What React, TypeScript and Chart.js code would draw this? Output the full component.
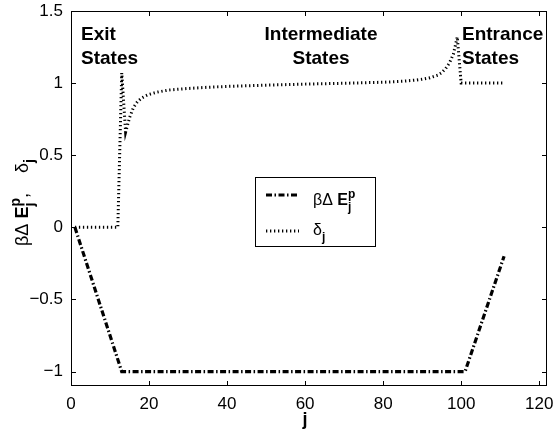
import { useEffect, useRef } from "react";
import { Chart, registerables } from "chart.js";

Chart.register(...registerables);

// ---- data ----
const energyJ = [1, 13, 101, 111];
const energyValues = [0, -1, -1, -0.2];

const deltaJ = [1, 12, 13, 14, 15, 16, 17, 18, 19, 20, 22, 25, 30, 35, 40, 50, 60, 70, 80, 85, 88, 90, 92, 94, 95, 96, 97, 98, 99, 100, 111];
const deltaValues = [0, 0, 1.07, 0.66, 0.76, 0.83, 0.87, 0.895, 0.91, 0.922, 0.937, 0.952, 0.963, 0.971, 0.977, 0.986, 0.993, 0.999, 1.006, 1.013, 1.02, 1.027, 1.037, 1.055, 1.072, 1.1, 1.14, 1.2, 1.32, 1.0, 1.0];

const xTicks = [0, 20, 40, 60, 80, 100, 120];
const yTicks = [-1, -0.5, 0, 0.5, 1, 1.5];

const FONT = '"Liberation Sans", Arial, Helvetica, sans-serif';

type Seg = { text: string; bold?: boolean; script?: "sup" | "sub"; stack?: boolean };

function drawRich(ctx: CanvasRenderingContext2D, segs: Seg[], x: number, y: number, size: number) {
  let cx = x;
  let stackW = 0;
  for (const s of segs) {
    const sz = s.script ? Math.round(size * 0.78) : size;
    ctx.font = `${s.bold ? "bold " : ""}${sz}px ${FONT}`;
    const dy = s.script === "sup" ? -size * 0.42 : s.script === "sub" ? size * 0.36 : 0;
    ctx.fillText(s.text, cx, y + dy);
    const w = ctx.measureText(s.text).width;
    if (s.stack) {
      stackW = w;
    } else {
      cx += Math.max(w, stackW);
      stackW = 0;
    }
  }
}

const energyLegend: Seg[] = [
  { text: "βΔ " },
  { text: "E", bold: true },
  { text: "p", bold: true, script: "sup", stack: true },
  { text: "j", bold: true, script: "sub" },
];
const deltaLegend: Seg[] = [{ text: "δ" }, { text: "j", bold: true, script: "sub" }];
const yTitle: Seg[] = [
  { text: "βΔ " },
  { text: "E", bold: true },
  { text: "p", bold: true, script: "sup", stack: true },
  { text: "j", bold: true, script: "sub" },
  { text: ",    " },
  { text: "δ" },
  { text: "j", bold: true, script: "sub" },
];

const ENERGY_DASH = [6, 2.5, 1.5, 2.5];
const DELTA_DASH = [1.3, 2.7];

const framePlugin = {
  id: "frame",
  afterDraw(chart: any) {
    const { ctx, chartArea: a, scales } = chart;
    const xs = scales.x;
    const ys = scales.y;
    ctx.save();
    ctx.strokeStyle = "#000";
    ctx.lineWidth = 1;
    ctx.setLineDash([]);
    ctx.strokeRect(a.left + 0.5, a.top + 0.5, a.right - a.left - 1, a.bottom - a.top - 1);
    ctx.beginPath();
    for (const v of xTicks) {
      const px = Math.round(xs.getPixelForValue(v)) + 0.5;
      ctx.moveTo(px, a.bottom);
      ctx.lineTo(px, a.bottom - 5);
      ctx.moveTo(px, a.top);
      ctx.lineTo(px, a.top + 5);
    }
    for (const v of yTicks) {
      const py = Math.round(ys.getPixelForValue(v)) + 0.5;
      ctx.moveTo(a.left, py);
      ctx.lineTo(a.left + 5, py);
      ctx.moveTo(a.right, py);
      ctx.lineTo(a.right - 5, py);
    }
    ctx.stroke();

    // region annotations
    ctx.fillStyle = "#000";
    ctx.font = `bold 19px ${FONT}`;
    ctx.textBaseline = "alphabetic";
    ctx.textAlign = "left";
    ctx.fillText("Exit", 81, 40);
    ctx.fillText("States", 81, 64);
    ctx.textAlign = "center";
    ctx.fillText("Intermediate", 321, 40);
    ctx.fillText("States", 321, 64);
    ctx.textAlign = "left";
    ctx.fillText("Entrance", 462, 40);
    ctx.fillText("States", 462, 64);

    // legend
    ctx.fillStyle = "#fff";
    ctx.fillRect(255.5, 177.5, 120, 69);
    ctx.strokeRect(255.5, 177.5, 120, 69);
    ctx.strokeStyle = "#000";
    ctx.lineWidth = 3;
    ctx.setLineDash(ENERGY_DASH);
    ctx.beginPath();
    ctx.moveTo(266, 195);
    ctx.lineTo(299, 195);
    ctx.stroke();
    ctx.setLineDash(DELTA_DASH);
    ctx.beginPath();
    ctx.moveTo(266, 231);
    ctx.lineTo(299, 231);
    ctx.stroke();
    ctx.setLineDash([]);
    ctx.fillStyle = "#000";
    drawRich(ctx, energyLegend, 313, 205, 16);
    drawRich(ctx, deltaLegend, 313, 235, 16);

    // x title
    ctx.textAlign = "center";
    ctx.font = `bold 18px ${FONT}`;
    ctx.fillText("j", 305, 425);

    // y title (rotated)
    ctx.save();
    ctx.translate(28, 246);
    ctx.rotate(-Math.PI / 2);
    ctx.textAlign = "left";
    drawRich(ctx, yTitle, 0, 0, 18);
    ctx.restore();

    ctx.restore();
  },
};

export default function App() {
  const ref = useRef<HTMLCanvasElement | null>(null);
  useEffect(() => {
    if (!ref.current) return;
    const fmt = (v: number) => (v < 0 ? "\u2212" + Math.abs(v) : String(v));
    const chart = new Chart(ref.current, {
      type: "line",
      data: {
        datasets: [
          {
            label: "energy",
            data: energyJ.map((j, i) => ({ x: j, y: energyValues[i] })),
            borderColor: "#000",
            borderWidth: 3.2,
            borderDash: ENERGY_DASH,
            pointRadius: 0,
            tension: 0,
            fill: false,
          },
          {
            label: "delta",
            data: deltaJ.map((j, i) => ({ x: j, y: deltaValues[i] })),
            borderColor: "#000",
            borderWidth: 3,
            borderDash: DELTA_DASH,
            pointRadius: 0,
            tension: 0,
            fill: false,
          },
        ],
      },
      options: {
        animation: false,
        responsive: true,
        maintainAspectRatio: false,
        layout: { padding: { left: 0, right: 8, top: 11, bottom: 0 } },
        plugins: { legend: { display: false }, tooltip: { enabled: false } },
        scales: {
          x: {
            type: "linear",
            min: 0,
            max: 122,
            grid: { display: false, drawTicks: false },
            border: { display: false },
            afterBuildTicks: (s: any) => {
              s.ticks = xTicks.map((v) => ({ value: v }));
            },
            afterFit: (s: any) => {
              s.height = 46;
              s.paddingLeft = 0;
              s.paddingRight = 0;
            },
            ticks: {
              color: "#000",
              padding: 8,
              maxRotation: 0,
              autoSkip: false,
              font: { family: FONT, size: 17 },
              callback: (v: any) => fmt(Number(v)),
            },
          },
          y: {
            type: "linear",
            min: -1.1,
            max: 1.5,
            grid: { display: false, drawTicks: false },
            border: { display: false },
            afterBuildTicks: (s: any) => {
              s.ticks = yTicks.map((v) => ({ value: v }));
            },
            afterFit: (s: any) => {
              s.width = 71;
              s.paddingTop = 0;
              s.paddingBottom = 0;
            },
            ticks: {
              color: "#000",
              padding: 8,
              autoSkip: false,
              font: { family: FONT, size: 17 },
              callback: (v: any) => fmt(Number(v)),
            },
          },
        },
      },
      plugins: [framePlugin],
    });
    return () => chart.destroy();
  }, []);
  return (
    <div style={{ position: "fixed", left: 0, top: 0, width: 555, height: 432, background: "#fff" }}>
      <canvas ref={ref} />
    </div>
  );
}
